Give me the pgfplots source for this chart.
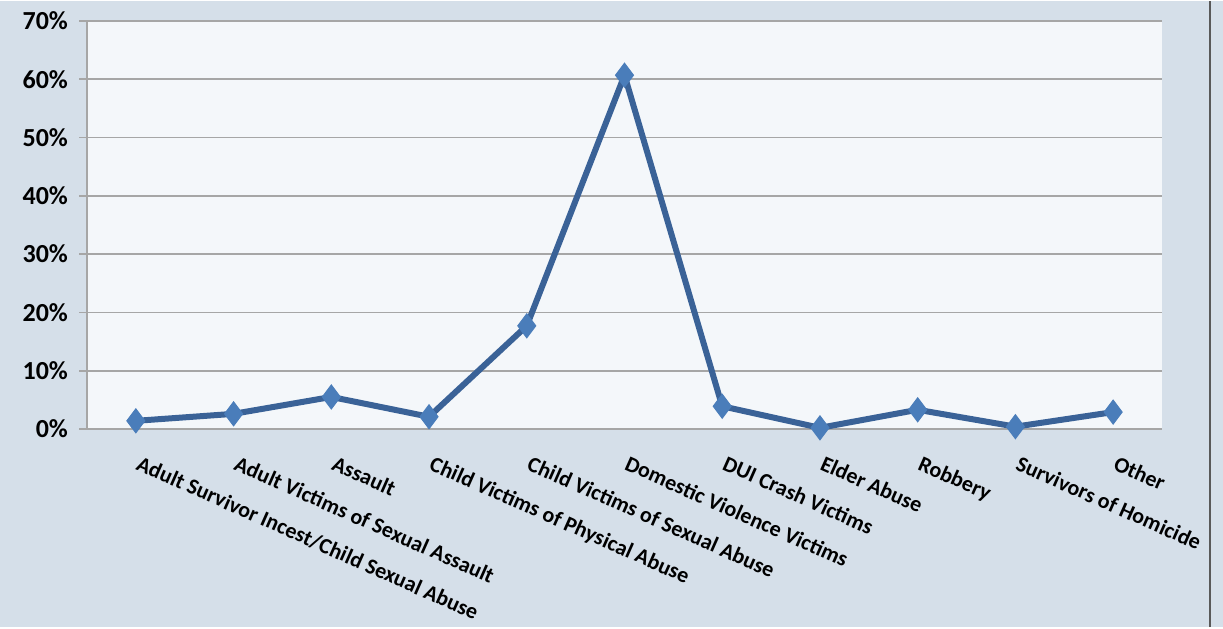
\documentclass[border=0pt]{standalone}
\usepackage{pgfplots}
\pgfplotsset{compat=1.18}
\usepackage{fontspec}
\setmainfont{Carlito}
\definecolor{bgslide}{HTML}{D5DFE9}
\definecolor{plotbg}{HTML}{F4F7FA}
\definecolor{gridc}{HTML}{A6A6A6}
\definecolor{linec}{HTML}{3A6297}
\definecolor{markc}{HTML}{4A7DBA}
\begin{document}
\begin{tikzpicture}
% slide background, 1 px = 0.5pt
\fill[bgslide] (0,0) rectangle (611.5pt,313pt);
\draw[gray!70!black, line width=1pt] (605pt,0) -- (605pt,313pt);
\begin{axis}[
    at={(43.5pt,99pt)}, anchor=south west,
    width=537.5pt, height=204pt, scale only axis,
    axis background/.style={fill=plotbg},
    xmin=-0.5, xmax=10.5,
    ymin=0, ymax=70,
    axis x line*=bottom, axis y line*=left,
    axis line style={gridc, line width=0.8pt},
    ytick={0,10,...,70},
    /pgf/number format/assume math mode=true,
    yticklabel={\pgfmathprintnumber{\tick}\%},
    yticklabel style={font=\fontsize{13}{15}\selectfont\bfseries, xshift=-2pt},
    ymajorgrids, major grid style={gridc, line width=0.8pt},
    y tick style={gridc, line width=0.8pt},
    tick align=outside, major tick length=4pt,
    xtick={0,...,10},
    x tick style={draw=none},
    minor xtick={-0.5,0.5,...,10.5},
    minor x tick style={gridc, line width=0.8pt},
    minor tick length=4pt,
    xticklabels={
        Adult Survivor Incest/Child Sexual Abuse,
        Adult Victims of Sexual Assault,
        Assault,
        Child Victims of Physical Abuse,
        Child Victims of Sexual Abuse,
        Domestic Violence Victims,
        DUI Crash Victims,
        Elder Abuse,
        Robbery,
        Survivors of Homicide,
        Other},
    xticklabel style={font=\fontsize{11}{13}\selectfont\bfseries,
        rotate=-24, anchor=north west, inner sep=0pt, yshift=-7pt, xshift=6pt},
    clip=false,
]
\addplot[linec, line width=3pt, mark=diamond*, mark size=6pt,
    mark options={fill=markc, draw=markc, line width=0.5pt}] coordinates {
    (0,1.4) (1,2.6) (2,5.5) (3,2.1) (4,17.7) (5,60.7)
    (6,3.9) (7,0.2) (8,3.3) (9,0.4) (10,2.9)
};
\end{axis}
\end{tikzpicture}
\end{document}
